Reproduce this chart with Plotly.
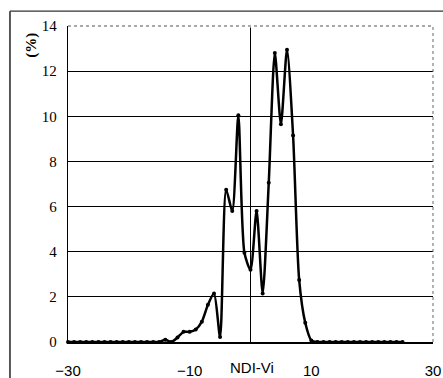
import plotly.graph_objects as go

# NDI-Vi distribution (%)
ndi_x = list(range(-30, 26))
pct_zero_left = [0.0] * 16  # -30 .. -15
pct_mid = [0.1, 0.0, 0.2, 0.45, 0.45, 0.55, 0.9, 1.65, 2.15, 0.22,   # -14 .. -5
           6.75, 5.8, 10.05, 3.95, 3.2, 5.8, 2.15, 7.05, 12.8, 9.65,  # -4 .. 5
           12.95, 9.15, 2.75, 0.85, 0.07]                              # 6 .. 10
pct_zero_right = [0.0] * 15  # 11 .. 25
pct_values = pct_zero_left + pct_mid + pct_zero_right

x_ticks = [-30, -10, 10, 30]
y_ticks = [0, 2, 4, 6, 8, 10, 12, 14]

fig = go.Figure()
fig.add_trace(go.Scatter(
    x=ndi_x, y=pct_values, mode="lines+markers",
    line=dict(color="black", width=2.5, shape="spline", smoothing=0.7),
    marker=dict(color="black", size=4),
    cliponaxis=False, showlegend=False,
))

fig.update_layout(
    width=443, height=378,
    margin=dict(l=68, r=10, t=26, b=36),
    paper_bgcolor="white", plot_bgcolor="white",
    xaxis=dict(
        range=[-30, 30], tickvals=x_ticks, ticktext=["−30", "−10", "10", "30"],
        showgrid=False, zeroline=True, zerolinecolor="black", zerolinewidth=1,
        showline=True, linecolor="black", linewidth=1.5,
        ticks="", ticklabelstandoff=14, automargin=False,
        tickfont=dict(family="Liberation Sans, Arial", size=15, color="black"),
    ),
    yaxis=dict(
        range=[0, 14], tickvals=y_ticks,
        showgrid=True, gridcolor="black", gridwidth=1.3,
        zeroline=False, showline=True, linecolor="black", linewidth=1.3,
        ticks="", ticklabelstandoff=7, automargin=False,
        tickfont=dict(family="Liberation Serif, Times New Roman", size=15, color="black"),
    ),
    shapes=[
        # top border (dotted)
        dict(type="line", xref="paper", yref="paper", x0=0, x1=1, y0=1, y1=1,
             line=dict(color="white", width=3)),
        dict(type="line", xref="paper", yref="paper", x0=0, x1=1, y0=1, y1=1,
             line=dict(color="#555", width=1.2, dash="dot")),
        # right border (dotted)
        dict(type="line", xref="paper", yref="paper", x0=1, x1=1, y0=0, y1=1,
             line=dict(color="#666", width=1, dash="dot")),
        # outer frame top and left
        dict(type="line", xref="paper", yref="paper", x0=-0.159, x1=1.03, y0=1.047, y1=1.047,
             line=dict(color="#333", width=1.2)),
        dict(type="line", xref="paper", yref="paper", x0=-0.159, x1=-0.159, y0=-0.2, y1=1.047,
             line=dict(color="#222", width=1.5)),
    ],
    annotations=[
        dict(text="<b>(%)</b>", xref="paper", yref="paper", x=-0.129, y=0.985,
             textangle=-90, showarrow=False,
             font=dict(family="Liberation Serif, Times New Roman", size=15, color="black")),
        dict(text="NDI-Vi", xref="x", yref="paper", x=0.3, y=-0.08, yanchor="middle",
             showarrow=False,
             font=dict(family="Liberation Sans, Arial", size=15, color="black")),
    ],
)

fig.write_html("out.html", config={"displayModeBar": False},
               post_script="document.body.style.margin='0';")
